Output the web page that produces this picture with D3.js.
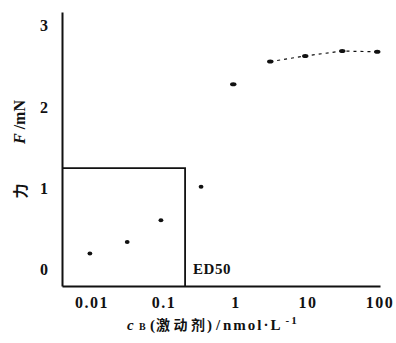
<!DOCTYPE html>
<html>
<head>
<meta charset="utf-8">
<script src="https://cdn.jsdelivr.net/npm/d3@7"></script>
<style>
  body { margin: 0; background: #fff; }
  text { font-family: "Liberation Serif", "Noto Sans CJK SC", serif; font-weight: bold; fill: #111; }
</style>
</head>
<body>
<div id="chart"></div>
<script>
// Concentration of agonist (nmol/L) and force (mN)
const conc = [0.01, 0.033, 0.097, 0.35, 0.98, 3.2, 9.8, 32, 98];
const force = [0.2, 0.34, 0.61, 1.02, 2.28, 2.56, 2.63, 2.69, 2.68];
// points joined by the dashed curve
const dashedConc = [3.2, 9.8, 32, 98];
const dashedForce = [2.56, 2.63, 2.69, 2.68];
const xTicks = [0.01, 0.1, 1, 10, 100];
const xTickLabels = ["0.01", "0.1", "1", "10", "100"];
const yTicks = [0, 1, 2, 3];
const ed50 = 0.21;
const halfForce = 1.25;

const width = 396;
const height = 343;

const svg = d3.select("#chart")
    .append("svg")
    .attr("width", width)
    .attr("height", height);

const xScale = d3.scaleLog()
    .domain([0.0041, 107])
    .range([62, 380]);

const yScale = d3.scaleLinear()
    .domain([-0.2, 3.17])
    .range([286, 12]);

// x axis
const xAxis = svg.append("g")
    .attr("transform", `translate(0, ${yScale(-0.2)})`)
    .call(d3.axisBottom(xScale)
        .tickValues(xTicks)
        .tickFormat((d, i) => xTickLabels[i])
        .tickSize(0)
        .tickSizeOuter(0)
        .tickPadding(11));
xAxis.select(".domain").attr("stroke", "#111").attr("stroke-width", 2);
xAxis.selectAll("text")
    .attr("dx", "0.1em")
    .style("font-size", "16px")
    .style("letter-spacing", "1.5px")
    .style("font-family", "Liberation Serif")
    .style("font-weight", "bold");

// y axis
const yAxis = svg.append("g")
    .attr("transform", `translate(${xScale(0.0041)}, 0)`)
    .call(d3.axisLeft(yScale)
        .tickValues(yTicks)
        .tickFormat(d3.format("d"))
        .tickSize(0)
        .tickSizeOuter(0)
        .tickPadding(14));
yAxis.select(".domain").attr("stroke", "#111").attr("stroke-width", 2);
yAxis.selectAll("text")
    .style("font-size", "16px")
    .style("font-family", "Liberation Serif")
    .style("font-weight", "bold");

// ED50 box
const box = d3.path();
box.moveTo(xScale(0.0041), yScale(halfForce));
box.lineTo(xScale(ed50), yScale(halfForce));
box.lineTo(xScale(ed50), yScale(-0.2));
svg.append("path")
    .attr("d", box.toString())
    .attr("fill", "none")
    .attr("stroke", "#111")
    .attr("stroke-width", 1.8);

svg.append("text")
    .attr("x", xScale(ed50) + 8)
    .attr("y", 274)
    .style("font-size", "15px")
    .style("letter-spacing", "0.5px")
    .text("ED50");

// dashed curve at the top
const line = d3.line()
    .x((d, i) => xScale(dashedConc[i]))
    .y(d => yScale(d));
svg.append("path")
    .datum(dashedForce)
    .attr("fill", "none")
    .attr("stroke", "#111")
    .attr("stroke-width", 1.2)
    .attr("stroke-dasharray", "3,4")
    .attr("d", line);

// data points
svg.selectAll(".pt")
    .data(force)
    .enter()
    .append("ellipse")
    .attr("class", "pt")
    .attr("cx", (d, i) => xScale(conc[i]))
    .attr("cy", d => yScale(d))
    .attr("rx", (d, i) => i > 3 ? 3.2 : 2.4)
    .attr("ry", 2)
    .attr("fill", "#111");

// y axis title
svg.append("text")
    .attr("transform", "translate(26, 191) rotate(-90)")
    .attr("text-anchor", "middle")
    .style("font-size", "15px")
    .style("font-family", "Noto Sans CJK SC")
    .text("力");

const yTitle = svg.append("text")
    .attr("transform", "translate(25, 122) rotate(-90)")
    .attr("text-anchor", "middle")
    .style("font-size", "16px");
yTitle.append("tspan").style("font-style", "italic").text("F");
yTitle.append("tspan").text(" /mN");

// x axis title
const xTitle = svg.append("text")
    .attr("y", 330)
    .style("font-size", "15px");
xTitle.append("tspan").attr("x", 127).style("font-style", "italic").text("c");
xTitle.append("tspan").attr("x", 139).style("font-size", "10px").text("B");
xTitle.append("tspan").attr("x", 150).text("(");
xTitle.append("tspan")
    .attr("x", 156)
    .style("font-family", "Noto Sans CJK SC")
    .style("font-size", "14px")
    .style("letter-spacing", "3.5px")
    .text("激动剂");
xTitle.append("tspan").attr("x", 207).text(")");
xTitle.append("tspan").attr("x", 216).text("/");
xTitle.append("tspan").attr("x", 223).style("letter-spacing", "2px").text("nmol·L");
xTitle.append("tspan").attr("dx", 3).attr("dy", -6).style("font-size", "11px").style("letter-spacing", "2px").text("-1");
</script>
</body>
</html>
